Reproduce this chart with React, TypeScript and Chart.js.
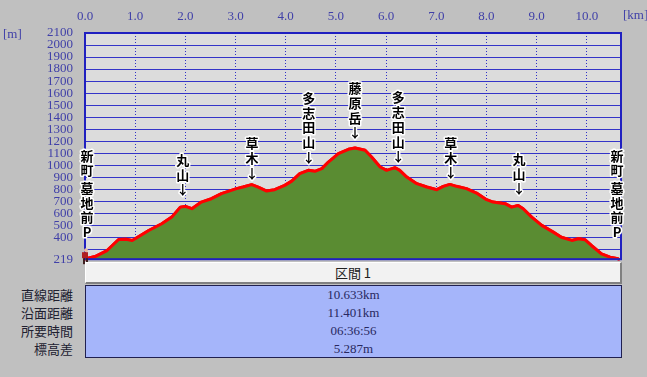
import React, { useEffect, useRef } from 'react';
import { Chart, registerables } from 'chart.js';

Chart.register(...registerables);

// ---- data ----
const distanceKm = [
  0, 0.04, 0.2, 0.44, 0.67, 0.82, 0.94, 1.0, 1.27, 1.53, 1.73, 1.9, 2.0, 2.13, 2.32, 2.52, 2.72,
  3.02, 3.15, 3.32, 3.45, 3.62, 3.78, 3.98, 4.12, 4.28, 4.45, 4.58, 4.72, 4.85, 5.05, 5.25, 5.38,
  5.58, 5.71, 5.88, 6.01, 6.18, 6.27, 6.41, 6.61, 6.81, 7.01, 7.14, 7.27, 7.4, 7.6, 7.8, 8.0,
  8.13, 8.37, 8.5, 8.63, 8.73, 8.9, 9.1, 9.33, 9.49, 9.7, 9.83, 9.96, 10.09, 10.29, 10.46, 10.62,
  10.633,
];
const elevationM = [
  219, 225, 241, 291, 383, 385, 375, 389, 458, 514, 569, 652, 658, 639, 694, 722, 764,
  806, 819, 839, 819, 786, 797, 833, 868, 931, 958, 950, 972, 1027, 1097, 1133, 1144,
  1125, 1069, 986, 958, 980, 958, 902, 847, 819, 797, 825, 841, 825, 806, 769, 714,
  694, 681, 652, 666, 639, 569, 500, 444, 402, 375, 389, 381, 333, 264, 236, 222,
  219,
];

const xTickValues = [0, 1, 2, 3, 4, 5, 6, 7, 8, 9, 10];
const yTickValues = [219, 300, 400, 500, 600, 700, 800, 900, 1000, 1100, 1200, 1300, 1400, 1500,
  1600, 1700, 1800, 1900, 2000, 2100];
const yHiddenLabels = [300];
const xMin = 0;
const xMax = 10.68;
const yMin = 219;
const yMax = 2100;

const waypointNames = ['新町 墓地前P', '丸山', '草木', '多志田山', '藤原岳', '多志田山', '草木', '丸山', '新町 墓地前P'];
const waypointKm = [0.04, 1.95, 3.33, 4.46, 5.38, 6.24, 7.29, 8.65, 10.6];
const waypointElev = [219, 658, 798, 928, 1133, 933, 800, 666, 219];
const waypointArrow = [false, true, true, true, true, true, true, true, false];

const sectionTitle = '区間 1';
const statLabels = ['直線距離', '沿面距離', '所要時間', '標高差'];
const statValues = ['10.633km', '11.401km', '06:36:56', '5.287m'];

// ---- styles ----
const tickColor = '#4040a8';
const serif = "'Liberation Serif', 'DejaVu Serif', serif";
const cjk = "'Noto Sans CJK JP', 'Noto Sans', sans-serif";

const overlayPlugin = {
  id: 'overlay',
  beforeDraw(chart: any) {
    const { ctx, chartArea: a } = chart;
    ctx.save();
    ctx.fillStyle = '#dcdcdc';
    ctx.fillRect(a.left, a.top, a.right - a.left, a.bottom - a.top);
    ctx.restore();
  },
  afterDraw(chart: any) {
    const { ctx, chartArea: a } = chart;
    const xs = chart.scales.x;
    const ys = chart.scales.y;
    // redraw profile line above grid
    const meta = chart.getDatasetMeta(1);
    if (meta && meta.dataset) {
      ctx.save();
      meta.dataset.draw(ctx, a);
      ctx.restore();
    }
    // frame
    ctx.save();
    ctx.strokeStyle = '#2020c0';
    ctx.lineWidth = 2;
    ctx.strokeRect(a.left, a.top, a.right - a.left, a.bottom - a.top);
    ctx.restore();
    // unit labels
    ctx.save();
    ctx.fillStyle = tickColor;
    ctx.font = `13px ${serif}`;
    ctx.textBaseline = 'middle';
    ctx.textAlign = 'left';
    ctx.fillText('[m]', 3, 35);
    ctx.fillText('[km]', 623, 16);
    ctx.restore();
    // small hiker marker at the start point
    const sx = xs.getPixelForValue(distanceKm[0]);
    const sy = ys.getPixelForValue(elevationM[0]);
    ctx.save();
    ctx.fillStyle = '#e8b8a0';
    ctx.beginPath();
    ctx.arc(sx + 1, sy - 9, 2, 0, Math.PI * 2);
    ctx.fill();
    ctx.fillStyle = '#b02020';
    ctx.fillRect(sx - 3, sy - 7, 6, 6);
    ctx.fillStyle = '#402020';
    ctx.fillRect(sx - 2, sy - 1, 2, 6);
    ctx.fillRect(sx + 1, sy - 1, 2, 6);
    ctx.restore();
    // waypoint labels
    ctx.save();
    ctx.font = `bold 13px ${cjk}`;
    ctx.textAlign = 'center';
    ctx.textBaseline = 'middle';
    ctx.lineJoin = 'round';
    ctx.lineWidth = 3;
    ctx.strokeStyle = '#ffffff';
    ctx.fillStyle = '#000000';
    const step = 14.7;
    waypointNames.forEach((name, i) => {
      const px = xs.getPixelForValue(waypointKm[i]);
      const py = ys.getPixelForValue(waypointElev[i]);
      const items: string[] = [];
      for (const ch of name) items.push(ch);
      if (waypointArrow[i]) items.push('↓');
      let y = waypointArrow[i] ? py - 17 : py - 27;
      for (let k = items.length - 1; k >= 0; k--) {
        const ch = items[k];
        if (ch === ' ') { y -= 3; continue; }
        ctx.strokeText(ch, px, y);
        ctx.fillText(ch, px, y);
        y -= step;
      }
    });
    ctx.restore();
  },
};

export default function App() {
  const ref = useRef<HTMLCanvasElement>(null);
  useEffect(() => {
    document.body.style.margin = '0';
    const canvas = ref.current!;
    const points = distanceKm.map((d, i) => ({ x: d, y: elevationM[i] }));
    const chart = new Chart(canvas, {
      type: 'line',
      data: {
        datasets: [
          {
            data: points,
            fill: 'start',
            backgroundColor: '#5a8c32',
            borderWidth: 0,
            borderColor: 'rgba(0,0,0,0)',
            pointRadius: 0,
            tension: 0,
          },
          {
            data: points,
            fill: false,
            borderColor: '#ff0000',
            borderWidth: 3,
            borderJoinStyle: 'round',
            borderCapStyle: 'round',
            pointRadius: 0,
            tension: 0,
          },
        ],
      },
      options: {
        responsive: false,
        animation: false,
        devicePixelRatio: 1,
        layout: { padding: { left: 0, right: 26, top: 0, bottom: 0 } },
        plugins: { legend: { display: false }, tooltip: { enabled: false } },
        scales: {
          x: {
            type: 'linear',
            position: 'top',
            min: xMin,
            max: xMax,
            z: 1,
            afterBuildTicks: (s: any) => { s.ticks = xTickValues.map((v) => ({ value: v })); },
            afterFit: (s: any) => { s.height = 33; },
            grid: { color: '#3030c8', lineWidth: 1, drawTicks: false },
            border: { display: false, dash: [1, 2] },
            ticks: {
              color: tickColor,
              font: { family: serif, size: 13 },
              padding: 9,
              maxRotation: 0,
              autoSkip: false,
              callback: (v: any) => Number(v).toFixed(1),
            },
          },
          y: {
            type: 'linear',
            min: yMin,
            max: yMax,
            z: 1,
            afterBuildTicks: (s: any) => { s.ticks = yTickValues.map((v) => ({ value: v })); },
            afterFit: (s: any) => { s.width = 85; },
            grid: { color: '#3434c8', lineWidth: 1, drawTicks: false },
            border: { display: false },
            ticks: {
              color: tickColor,
              font: { family: serif, size: 13 },
              padding: 12,
              autoSkip: false,
              callback: (v: any) => (yHiddenLabels.includes(Number(v)) ? '' : String(v)),
            },
          },
        },
      },
      plugins: [overlayPlugin],
    } as any);
    return () => chart.destroy();
  }, []);

  const rowTop = 286;
  const rowH = 18;
  return (
    <div style={{ position: 'absolute', left: 0, top: 0, width: 647, height: 377, background: '#c0c0c0', overflow: 'hidden' }}>
      <canvas ref={ref} width={647} height={279} style={{ position: 'absolute', left: 0, top: 0, width: 647, height: 279 }} />
      <div
        style={{
          position: 'absolute', left: 85, top: 262, width: 537, height: 22, boxSizing: 'border-box',
          background: '#f2f2f2', borderTop: '1px solid #ffffff', borderLeft: '1px solid #ffffff',
          borderRight: '2px solid #808080', borderBottom: '2px solid #808080',
          fontFamily: cjk, fontSize: 13, color: '#202020', textAlign: 'center', lineHeight: '20px',
        }}
      >
        {sectionTitle}
      </div>
      <div
        style={{
          position: 'absolute', left: 85, top: 285, width: 537, height: 73, boxSizing: 'border-box',
          background: '#a5b5fa', border: '1px solid #202050',
        }}
      />
      {statValues.map((v, i) => (
        <div key={'v' + i}
          style={{
            position: 'absolute', left: 85, width: 537, top: rowTop + i * rowH, height: rowH, lineHeight: rowH + 'px',
            textAlign: 'center', fontFamily: serif, fontSize: 13, color: '#282860',
          }}
        >
          {v}
        </div>
      ))}
      {statLabels.map((l, i) => (
        <div key={'l' + i}
          style={{
            position: 'absolute', left: 0, width: 73, top: rowTop + i * rowH, height: rowH, lineHeight: rowH + 'px',
            textAlign: 'right', fontFamily: cjk, fontSize: 13, color: '#202030', whiteSpace: 'nowrap',
          }}
        >
          {l}
        </div>
      ))}
    </div>
  );
}
